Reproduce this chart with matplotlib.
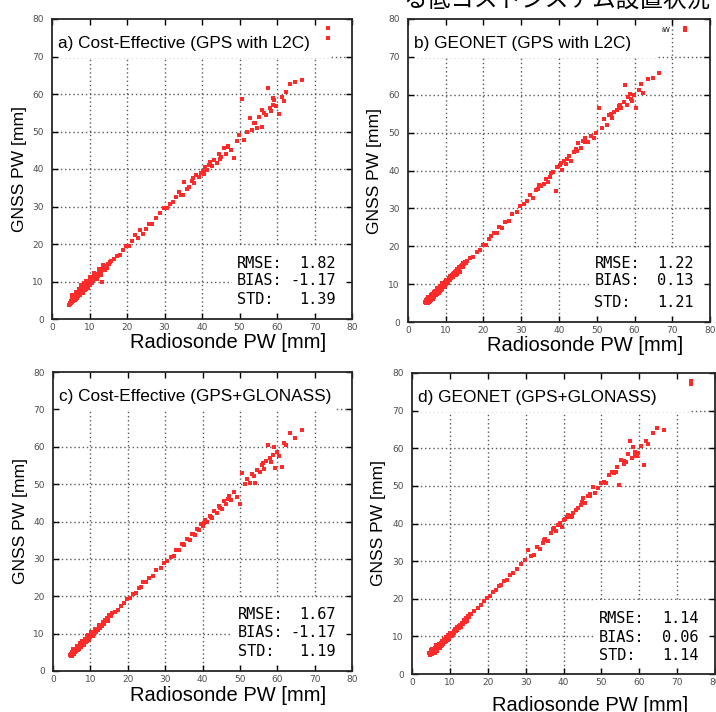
import numpy as np
import matplotlib
matplotlib.use('Agg')
import matplotlib.pyplot as plt
from matplotlib.patches import Rectangle

# Figure size in pixels
W, H = 716, 712

# Radiosonde PW [mm] (shared by all panels)
rs_pw = [4.5, 4.7, 4.9, 5.0, 5.1, 5.2, 5.3, 5.5, 5.6, 5.7, 5.8, 6.0, 6.1, 6.2, 6.4, 6.5,
         6.6, 6.8, 6.9, 7.0, 7.2, 7.3, 7.4, 7.6, 7.7, 7.9, 8.0, 8.1, 8.3, 8.4, 8.6, 8.7,
         8.9, 9.0, 9.2, 9.3, 9.5, 9.7, 9.8, 10.0, 10.3, 10.5, 10.8, 11.0, 11.2, 11.5, 11.7, 12.0,
         12.3, 12.6, 12.8, 13.1, 13.4, 13.7, 14.0, 14.3, 14.5, 14.8, 15.1, 15.4, 15.7, 6.3, 7.8, 9.4,
         16.5, 17.3, 18.2, 19.0, 19.8, 20.6, 21.4, 22.1, 22.9, 23.5, 24.2, 25.0, 25.8, 26.7, 27.6, 28.8,
         29.8, 30.6, 31.5, 32.3, 33.0, 33.8, 34.5, 35.1, 35.9, 36.6, 37.2, 37.9, 38.5, 39.1, 39.6, 40.2,
         40.8, 41.3, 41.9, 42.6, 43.2, 43.9, 44.5, 45.1, 45.8, 46.4, 47.0, 47.7, 48.4, 49.2,
         49.9, 50.6, 51.3, 52.0, 52.7, 53.3, 54.0, 54.6, 55.3, 55.9, 56.5, 57.1, 57.6, 58.0, 58.4, 58.8,
         59.3, 59.8, 60.4, 61.2, 62.3, 63.5, 64.8, 66.6,
         5.4, 5.9, 6.3, 6.7, 7.1, 7.5, 7.8, 8.2, 8.5, 8.8, 9.1, 9.6, 10.1, 10.6, 11.3, 11.9,
         12.4, 13.0, 13.6, 14.6, 34.8, 37.5, 40.5, 42.2, 44.8, 46.9, 53.8, 56.1, 59.0, 61.8]

# GNSS PW [mm] for each panel
gnss_a = [3.8, 4.3, 4.0, 4.9, 4.4, 5.3, 4.6, 5.0, 5.8, 4.9, 5.4, 6.1, 5.2, 5.9, 6.6, 5.7,
          6.2, 7.0, 6.1, 6.6, 7.5, 6.4, 7.0, 7.9, 6.9, 7.4, 8.3, 7.2, 7.9, 8.8, 7.8, 8.3,
          9.2, 8.1, 8.9, 9.6, 8.7, 9.3, 10.1, 9.2, 10.4, 9.7, 10.9, 10.3, 11.4, 10.6, 11.2, 11.9,
          11.5, 12.3, 12.0, 12.9, 9.8, 13.5, 13.2, 14.1, 13.9, 14.7, 14.6, 15.2, 15.6, 5.3, 8.2, 9.9,
          16.0, 16.9, 17.0, 18.3, 19.5, 19.6, 20.8, 22.5, 21.7, 23.8, 22.6, 24.1, 25.3, 25.4, 27.0, 28.3,
          29.5, 29.6, 30.8, 31.1, 32.6, 33.9, 33.0, 36.6, 34.8, 35.3, 36.8, 36.4, 38.4, 37.8, 38.9, 39.4,
          40.6, 39.8, 41.2, 40.7, 42.5, 41.5, 44.0, 43.3, 45.6, 43.9, 46.2, 45.0, 43.0, 47.6,
          49.0, 58.6, 47.7, 49.8, 53.6, 50.5, 52.2, 51.0, 53.9, 51.3, 55.0, 54.4, 61.5, 56.2, 55.5, 57.2,
          58.4, 56.9, 54.8, 59.3, 60.5, 62.8, 63.3, 63.7,
          6.3, 5.0, 7.1, 5.7, 8.0, 6.4, 9.0, 7.0, 9.6, 7.7, 10.2, 8.4, 11.1, 9.5, 12.2, 10.7,
          13.4, 11.8, 14.4, 13.6, 33.2, 37.6, 38.7, 41.9, 42.8, 45.9, 52.4, 55.8, 58.9, 58.2]

gnss_b = [5.4, 4.9, 5.8, 5.2, 6.0, 5.1, 5.7, 6.3, 5.4, 6.1, 6.6, 5.8, 6.5, 7.0, 6.2, 6.9,
          7.4, 6.6, 7.3, 7.8, 7.0, 7.7, 8.2, 7.4, 8.1, 8.6, 7.9, 8.5, 9.0, 8.2, 9.1, 8.6,
          9.5, 8.8, 9.8, 9.3, 10.3, 9.6, 10.6, 10.1, 10.9, 10.4, 11.6, 11.1, 12.2, 11.5, 12.4, 11.9,
          12.9, 12.4, 13.5, 12.7, 14.1, 13.3, 14.8, 15.0, 15.6, 15.2, 15.9, 15.5, 16.1, 6.8, 7.6, 10.0,
          17.0, 17.2, 18.6, 19.1, 20.4, 20.3, 21.9, 22.6, 23.6, 23.4, 25.1, 24.8, 26.5, 26.6, 28.4, 29.1,
          30.5, 31.2, 31.9, 33.4, 32.8, 34.9, 35.2, 35.8, 36.4, 37.8, 36.9, 39.4, 39.6, 34.6, 40.8, 41.5,
          40.2, 42.6, 41.8, 43.7, 42.6, 44.9, 45.7, 47.2, 45.9, 47.8, 48.6, 47.4, 49.1, 48.6,
          49.8, 56.4, 51.1, 53.6, 52.1, 54.7, 53.8, 55.4, 56.0, 57.1, 56.6, 58.2, 62.5, 57.4, 59.4, 60.3,
          58.3, 59.9, 56.4, 61.3, 60.5, 64.1, 64.3, 65.8,
          6.5, 5.5, 7.4, 6.0, 8.3, 7.0, 8.9, 7.7, 9.6, 8.4, 10.3, 9.2, 11.2, 10.2, 11.9, 12.7,
          13.3, 13.9, 14.6, 14.4, 36.1, 38.2, 41.9, 43.1, 45.2, 47.5, 54.9, 57.3, 59.0, 62.8]

gnss_c = [4.3, 3.9, 4.6, 4.1, 5.0, 4.4, 4.9, 4.6, 5.3, 4.8, 5.5, 5.0, 5.7, 5.3, 6.0, 5.5,
          6.2, 5.8, 6.5, 6.0, 6.8, 6.3, 7.0, 6.6, 7.3, 6.9, 7.6, 7.1, 7.9, 7.5, 8.2, 7.8,
          8.5, 8.0, 8.8, 8.4, 9.1, 8.8, 9.5, 9.1, 9.9, 9.5, 10.3, 10.0, 10.9, 10.5, 11.2, 11.0,
          11.9, 11.5, 12.4, 12.0, 13.0, 12.6, 13.6, 13.4, 14.2, 14.0, 14.9, 14.6, 15.6, 6.4, 7.8, 9.5,
          15.8, 16.2, 17.5, 18.1, 19.2, 19.5, 20.7, 21.0, 22.3, 22.6, 23.8, 23.7, 25.0, 25.5, 26.9, 27.6,
          29.0, 29.4, 30.6, 30.8, 32.4, 32.3, 33.9, 33.6, 35.2, 35.0, 36.7, 36.5, 38.1, 37.7, 39.2, 38.8,
          40.4, 39.9, 41.6, 40.9, 42.7, 42.2, 44.1, 43.4, 45.4, 44.7, 46.8, 45.7, 47.9, 46.6,
          44.8, 52.9, 50.0, 51.4, 50.4, 52.8, 50.2, 53.7, 53.2, 55.0, 54.1, 56.3, 60.4, 56.9, 55.8, 57.9,
          54.2, 58.7, 57.6, 54.6, 60.5, 63.6, 62.4, 64.4,
          5.9, 5.0, 6.8, 5.5, 7.4, 6.3, 8.1, 7.0, 8.6, 7.7, 9.3, 8.5, 10.4, 9.3, 11.2, 10.9,
          12.2, 12.0, 13.2, 13.5, 34.1, 36.6, 39.7, 41.3, 43.6, 45.9, 52.3, 55.7, 59.8, 60.9]

gnss_d = [5.6, 5.0, 6.1, 5.4, 6.3, 5.7, 5.2, 6.4, 5.8, 6.7, 6.1, 5.6, 6.8, 6.3, 7.2, 6.6,
          6.1, 7.3, 6.9, 7.7, 7.1, 6.8, 7.9, 7.5, 8.3, 7.8, 8.6, 8.1, 7.9, 8.9, 8.5, 9.3,
          8.8, 9.6, 9.0, 9.9, 9.4, 10.3, 9.7, 10.6, 10.2, 11.0, 10.7, 11.5, 11.0, 12.0, 11.5, 12.6,
          12.1, 13.1, 12.7, 13.6, 13.2, 14.3, 13.9, 14.9, 14.6, 15.4, 15.1, 16.0, 15.9, 7.6, 8.9, 10.4,
          16.8, 17.6, 18.4, 19.3, 20.1, 20.8, 21.7, 22.4, 23.3, 23.6, 24.6, 25.1, 26.3, 26.8, 28.0, 29.3,
          30.4, 33.0, 31.3, 31.6, 33.8, 33.2, 34.9, 35.8, 35.4, 37.4, 38.6, 38.1, 39.6, 40.1, 39.2, 40.9,
          41.8, 42.3, 41.6, 42.9, 43.6, 44.2, 44.8, 46.9, 45.4, 47.2, 47.9, 49.8, 48.1, 49.4,
          50.8, 51.0, 50.7, 52.9, 53.6, 53.4, 55.0, 50.3, 56.9, 55.9, 56.4, 58.6, 61.8, 57.3, 60.2, 59.1,
          57.9, 58.7, 60.6, 55.6, 61.0, 64.0, 65.3, 64.8,
          6.6, 5.7, 7.2, 6.4, 7.9, 7.0, 8.5, 7.9, 9.4, 8.4, 9.9, 9.0, 10.9, 10.0, 11.9, 11.6,
          12.8, 12.6, 14.1, 14.0, 35.6, 38.9, 41.2, 42.0, 45.6, 47.3, 53.7, 56.7, 58.0, 62.0]

# gnuplot key sample points (top right corner)
key_x = [[73.6, 73.6], [73.5, 73.5], [], [73.6, 73.6]]
key_y = [[77.5, 74.9], [77.0, 77.6], [], [77.2, 77.8]]

titles = ['a) Cost-Effective (GPS with L2C)', 'b) GEONET (GPS with L2C)',
          'c) Cost-Effective (GPS+GLONASS)', 'd) GEONET (GPS+GLONASS)']
rmse = ['1.82', '1.22', '1.67', '1.14']
bias = ['-1.17', '0.13', '-1.17', '0.06']
std = ['1.39', '1.21', '1.19', '1.14']

# axes boxes in pixels: left, top, right, bottom
boxes = [(52, 19, 352, 319), (408, 19, 710, 322), (53, 372, 352, 671), (412, 373, 715, 674)]
# white key box width (data units) in each panel
key_w = [74, 66, 75, 73]
# stats text baselines (data units)
stat_y = [(13.6, 9.1, 4.0), (14.2, 9.8, 4.0), (13.8, 9.2, 4.0), (13.5, 8.4, 3.6)]
# x label baseline (axes fraction below the axis)
xlab_y = [-0.095, -0.095, -0.099, -0.123]


def px_axes(fig, box):
    left, top, right, bottom = box
    return fig.add_axes([left / W, 1 - bottom / H, (right - left) / W, (bottom - top) / H])


def draw_panel(ax, x, y, i):
    ax.set_xlim(0, 80)
    ax.set_ylim(0, 80)
    ticks = np.arange(0, 81, 10)
    ax.set_xticks(ticks)
    ax.set_yticks(ticks)

    # dotted grid drawn by hand so the white boxes can hide it
    for v in range(10, 80, 10):
        ax.axvline(v, color='0.35', lw=1.0, ls=(0, (1, 2)), zorder=0.5)
        ax.axhline(v, color='0.35', lw=1.0, ls=(0, (1, 2)), zorder=0.5)

    # key box and stats box
    ax.add_patch(Rectangle((0.3, 69.6), key_w[i], 10.1, facecolor='white', edgecolor='none', zorder=1))
    ax.add_patch(Rectangle((48.0, 1.4), 31.6, 18.2, facecolor='white', edgecolor='none', zorder=1))

    ax.plot(x, y, ls='none', marker='s', ms=2.2, mew=0, color='#ff2a2a', zorder=3)
    if key_x[i]:
        ax.plot(key_x[i], key_y[i], ls='none', marker='s', ms=2.2, mew=0, color='#ff2a2a', zorder=3)

    ax.text(1.7, 72.3, titles[i], fontsize=12.4, family='Liberation Sans', zorder=4)

    mono = dict(fontsize=11, family='DejaVu Sans Mono', zorder=4, va='baseline')
    for lab, val, yy in zip(['RMSE:', 'BIAS:', 'STD:'], [rmse[i], bias[i], std[i]], stat_y[i]):
        ax.text(49.4, yy, lab, ha='left', **mono)
        ax.text(75.7, yy, val, ha='right', **mono)

    ax.tick_params(direction='in', length=4, width=1, top=True, right=True,
                   labelsize=6.5, labelcolor='0.3', pad=3)
    ax.tick_params(axis='y', pad=6)
    for s in ax.spines.values():
        s.set_linewidth(1.3)
        s.set_color('0.15')

    ax.set_xlabel('Radiosonde PW [mm]', fontsize=14.5, family='Liberation Sans')
    ax.set_ylabel('GNSS PW [mm]', fontsize=12.6, family='Liberation Sans')
    ax.xaxis.set_label_coords(0.587, xlab_y[i])
    ax.xaxis.label.set_va('baseline')
    ax.yaxis.set_label_coords(-0.11, 0.5)
    ax.yaxis.label.set_va('center')


fig = plt.figure(figsize=(W / 100, H / 100), dpi=100)
series = [gnss_a, gnss_b, gnss_c, gnss_d]
for i in range(4):
    ax = px_axes(fig, boxes[i])
    draw_panel(ax, rs_pw, series[i], i)
    if i == 1:
        # clipped key label left over from the original slide
        ax.text(67.2, 76.6, 'ıW', fontsize=5, zorder=4)

# slide title, cut off by the top of the picture
fig.text(403 / W, 1 - 8 / H, 'る低コストシステム設置状況', fontsize=17,
         family=['Noto Sans CJK JP', 'DejaVu Sans'], va='baseline', ha='left')

fig.savefig('out.png', dpi=100)
